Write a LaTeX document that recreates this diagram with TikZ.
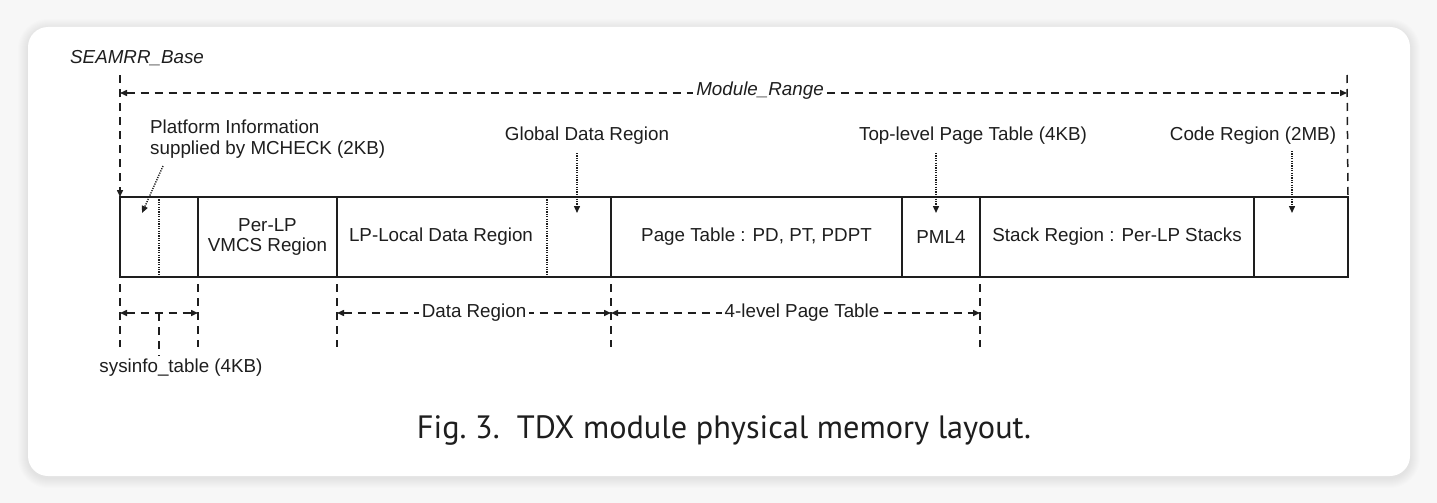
\documentclass[tikz,border=0pt]{standalone}
\usepackage{fontspec}
\setmainfont{Liberation Sans}
\newfontfamily\capfont{PT Sans}
\usetikzlibrary{arrows.meta}
\definecolor{ink}{HTML}{1E1E1E}
\definecolor{bgc}{HTML}{F7F7F7}
\tikzset{
  x=1pt,y=-1pt,
  lbl/.style={font=\fontsize{18.8}{21}\selectfont, text=ink, inner sep=1pt},
  cell/.style={draw=ink, line width=2.5pt, minimum height=80pt, anchor=north west, inner sep=0pt, outer sep=0pt, align=center, font=\fontsize{18.8}{19.5}\selectfont, text=ink},
  dim/.style={draw=ink, line width=1.5pt, dash pattern=on 8pt off 6pt},
  dots/.style={draw=ink, line width=1.4pt, dash pattern=on 1.2pt off 1.2pt},
  tip/.style={-{Triangle[length=7pt,width=6pt]}},
  tips/.style={{Triangle[length=7pt,width=6pt]}-{Triangle[length=7pt,width=6pt]}},
}
\begin{document}
\begin{tikzpicture}
\useasboundingbox (0,0) rectangle (1437,503);
\fill[bgc] (0,0) rectangle (1437,503);
\foreach \i in {1,...,10}{
  \fill[black, opacity=0.006, rounded corners=20pt+\i pt] (28-\i,27-\i+2) rectangle (1410+\i,476+\i+2);
}
\fill[white, rounded corners=20pt] (28,27) rectangle (1410,476);

% memory cells
\node[cell, minimum width=78pt]  (c1) at (120,197) {};
\node[cell, minimum width=139pt] (c2) at (198,197) {Per-LP\\VMCS Region};
\node[cell, minimum width=274pt] (c3) at (337,197) {};
\node[cell, minimum width=291pt] (c4) at (611,197) {Page Table : PD, PT, PDPT};
\node[cell, minimum width=78pt]  (c5) at (902,197) {PML4};
\node[cell, minimum width=274pt] (c6) at (980,197) {Stack Region : Per-LP Stacks};
\node[cell, minimum width=94pt]  (c7) at (1254,197) {};
\node[lbl] (lpl) at (441,237) {LP-Local Data Region};

% inner dotted dividers
\coordinate (d1t) at (159,197); \coordinate (d1b) at (159,277);
\coordinate (d2t) at (547,197); \coordinate (d2b) at (547,277);
\draw[dots] (d1t) -- (d1b);
\draw[dots] (d2t) -- (d2b);

% top labels
\node[lbl, font=\fontsize{18.8}{21}\selectfont\itshape, anchor=west] (base) at (69,58) {SEAMRR\_Base};
\node[lbl, align=left, anchor=west] (plat) at (149,139) {Platform Information\\supplied by MCHECK (2KB)};
\node[lbl] (glob) at (587,136) {Global Data Region};
\node[lbl] (top) at (973,136) {Top-level Page Table (4KB)};
\node[lbl] (code) at (1253,136) {Code Region (2MB)};

% Module range
\coordinate (lt) at (120,75);
\coordinate (rt) at (1347,75);
\coordinate (ml) at (120,93);
\coordinate (mr) at (1347,93);
\draw[dim, tip] (lt) -- (c1.north west);
\draw[dim] (rt) -- (c7.north east);
\draw[dim, tips] (ml) -- (mr);
\node[lbl, font=\fontsize{18.8}{21}\selectfont\itshape, fill=white, inner sep=3pt] (mod) at (760,91) {Module\_Range};

% dotted pointers
\coordinate (p1s) at (163,166); \coordinate (p1e) at (142,213);
\coordinate (p2s) at (577,153); \coordinate (p2e) at (577,213);
\coordinate (p3s) at (936,153); \coordinate (p3e) at (936,213);
\coordinate (p4s) at (1292,151); \coordinate (p4e) at (1292,213);
\draw[dots, tip] (p1s) -- (p1e);
\draw[dots, tip] (p2s) -- (p2e);
\draw[dots, tip] (p3s) -- (p3e);
\draw[dots, tip] (p4s) -- (p4e);

% bottom extension lines
\foreach \n/\x in {a/120,b/198,c/337,d/611,e/980}{
  \coordinate (\n t) at (\x,284);
  \coordinate (\n b) at (\x,347);
  \draw[dim] (\n t) -- (\n b);
}
\coordinate (st) at (159,313); \coordinate (sb) at (159,356);
\draw[dim] (st) -- (sb);
\coordinate (h1l) at (120,313); \coordinate (h1r) at (198,313);
\coordinate (h2l) at (337,313); \coordinate (h2r) at (611,313);
\coordinate (h3l) at (611,313); \coordinate (h3r) at (980,313);
\draw[dim, tips] (h1l) -- (h1r);
\draw[dim, tips] (h2l) -- (h2r);
\draw[dim, tips] (h3l) -- (h3r);
\node[lbl, fill=white, inner sep=3pt] (dr) at (474,313) {Data Region};
\node[lbl, fill=white, inner sep=3pt] (fl) at (802,313) {4-level Page Table};
\node[lbl] (sys) at (181,368) {sysinfo\_table (4KB)};

% caption
\node[font=\capfont\fontsize{32.3}{38}\selectfont, text=ink] (cap) at (724,430) {Fig.~3.\ \ TDX module physical memory layout.};
\end{tikzpicture}
\end{document}
